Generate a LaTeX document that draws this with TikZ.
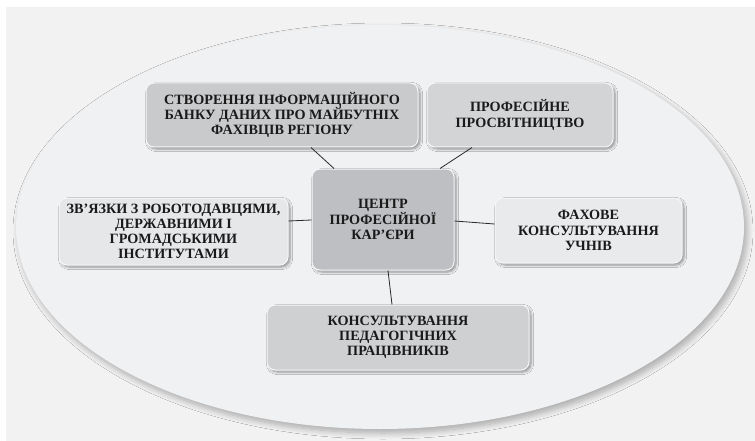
\documentclass[tikz,border=0pt]{standalone}
\usepackage{fontspec}
\setmainfont{Liberation Serif}
\usetikzlibrary{shadows.blur,calc}

\definecolor{pagebg}{HTML}{F2F2F2}
\definecolor{ovalbg}{HTML}{F0F1F3}
\definecolor{rimcol}{HTML}{F7F7F8}
\definecolor{fillA}{HTML}{C9CACC}
\definecolor{fillB}{HTML}{D3D4D6}
\definecolor{fillC}{HTML}{BEBFC2}
\definecolor{fillD}{HTML}{E6E7E9}
\definecolor{fillE}{HTML}{E9EAEC}
\definecolor{fillF}{HTML}{CFD0D2}
\definecolor{txtcol}{HTML}{1A1A1A}
\definecolor{linkcol}{HTML}{2A2A2A}

\tikzset{
  topic/.style={rectangle, rounded corners=8pt, draw=rimcol, line width=1pt,
    align=center, text=txtcol, inner sep=2pt,
    font=\bfseries\fontsize{14.2}{15.2}\selectfont,
    blur shadow={shadow xshift=2pt, shadow yshift=-2pt,
      shadow blur radius=2.5pt, shadow blur steps=6, shadow opacity=40}},
  link/.style={draw=linkcol, line width=0.8pt}
}

\begin{document}
\begin{tikzpicture}[x=1pt,y=-1pt]
  \useasboundingbox (0,0) rectangle (755,441);
  % page background
  \fill[white] (0,0) rectangle (755,441);
  \fill[pagebg] (6,7) rectangle (755,441);
  % large oval holding the diagram
  \fill[ovalbg, blur shadow={shadow xshift=3pt, shadow yshift=-4pt,
      shadow blur radius=6pt, shadow blur steps=10, shadow opacity=30}]
    (380,227) ellipse [x radius=364, y radius=202];

  % topics
  \node[topic, fill=fillA, minimum width=272pt, minimum height=64pt] (tl) at (282,115)
    {СТВОРЕННЯ ІНФОРМАЦІЙНОГО\\БАНКУ ДАНИХ ПРО МАЙБУТНІХ\\ФАХІВЦІВ РЕГІОНУ};
  \node[topic, fill=fillB, minimum width=186pt, minimum height=64pt] (tr) at (520,115)
    {ПРОФЕСІЙНЕ\\ПРОСВІТНИЦТВО};
  \node[topic, fill=fillC, minimum width=142pt, minimum height=101pt] (c) at (383,219.5)
    {ЦЕНТР\\ПРОФЕСІЙНОЇ\\КАР’ЄРИ};
  \node[topic, fill=fillD, minimum width=229pt, minimum height=67pt] (l) at (173.5,231.5)
    {ЗВ’ЯЗКИ З РОБОТОДАВЦЯМИ,\\ДЕРЖАВНИМИ І\\ГРОМАДСЬКИМИ\\ІНСТИТУТАМИ};
  \node[topic, fill=fillE, minimum width=187pt, minimum height=65pt] (r) at (588.5,230.5)
    {ФАХОВЕ\\КОНСУЛЬТУВАННЯ\\УЧНІВ};
  \node[topic, fill=fillF, minimum width=262pt, minimum height=65pt] (b) at (398,337.5)
    {КОНСУЛЬТУВАННЯ\\ПЕДАГОГІЧНИХ\\ПРАЦІВНИКІВ};

  % connectors to the centre
  \draw[link] ([xshift=29pt]tl.south) -- ([xshift=-49pt]c.north);
  \draw[link] ([xshift=-48pt]tr.south) -- ([xshift=57pt]c.north);
  \draw[link] ([yshift=10.5pt]l.east) -- ([yshift=-0.5pt]c.west);
  \draw[link] ([yshift=-1.5pt]c.east) -- ([yshift=6.5pt]r.west);
  \draw[link] ([xshift=5pt]c.south) -- ([xshift=-6pt]b.north);
\end{tikzpicture}
\end{document}
